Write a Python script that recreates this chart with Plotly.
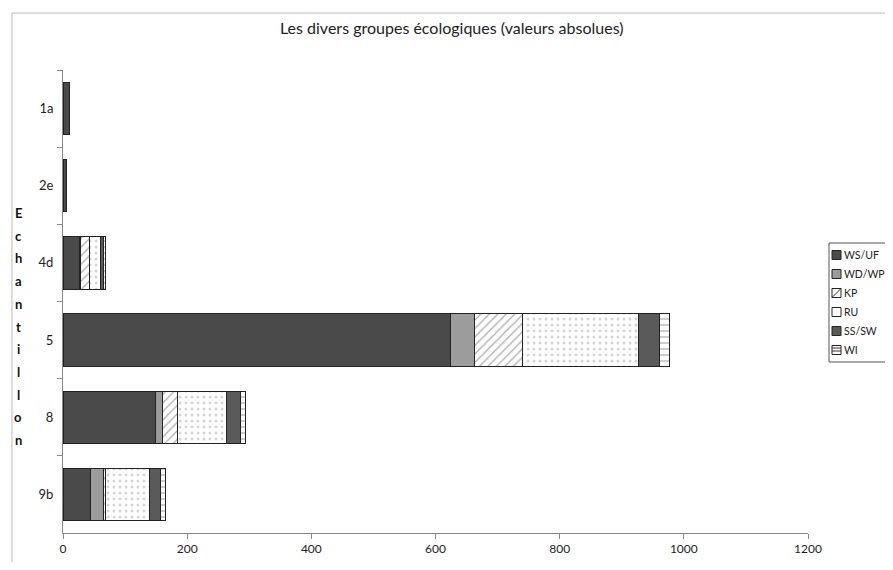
import plotly.graph_objects as go

echantillons = ["1a", "2e", "4d", "5", "8", "9b"]

ws_uf = [10, 6, 26, 624, 149, 45]
wd_wp = [0, 0, 2, 39, 12, 21]
kp = [0, 0, 14, 77, 23, 2]
ru = [0, 0, 18, 187, 80, 71]
ss_sw = [0, 0, 5, 34, 22, 18]
wi = [0, 0, 3, 16, 8, 8]

x_ticks = [0, 200, 400, 600, 800, 1000, 1200]
axis_title = "Echantillon"

groups = [
    ("WS/UF", ws_uf, "#4a4a4a", "", "#555"),
    ("WD/WP", wd_wp, "#9c9c9c", "", "#555"),
    ("KP", kp, "white", "/", "#555"),
    ("RU", ru, "white", ".", "#aaa"),
    ("SS/SW", ss_sw, "#5a5a5a", "", "#555"),
    ("WI", wi, "white", "-", "#555"),
]

# figure pixels -> paper coords (plot area is 55..800 x 62..525 in figure px)
def px(fx):
    return (fx - 55) / 745

def py(fy):
    return (525 - fy) / 463

fig = go.Figure()
for name, vals, col, pat, fg in groups:
    fig.add_trace(go.Bar(
        name=name, y=echantillons, x=vals, orientation="h",
        marker=dict(color=col, line=dict(color="#222", width=1),
                    pattern=dict(shape=pat, fgcolor=fg, size=6, solidity=0.2)),
    ))

# page has an 8px body margin: keep the figure small enough to avoid scrollbars
fig.update_layout(
    barmode="stack",
    bargap=0.32,
    width=877,
    height=554,
    plot_bgcolor="white",
    paper_bgcolor="white",
    font=dict(family="Lato, Open Sans, sans-serif", size=12, color="#222"),
    title=dict(text="Les divers groupes écologiques (valeurs absolues)",
               x=0.506, xanchor="center", y=0.964, yanchor="middle",
               font=dict(size=16, color="#222")),
    margin=dict(l=55, r=77, t=62, b=29, autoexpand=False),
    showlegend=False,
    xaxis=dict(range=[0, 1200], tickvals=x_ticks, showgrid=False,
               showline=True, linecolor="#888", linewidth=1,
               ticks="outside", ticklen=5, tickcolor="#888",
               zeroline=False, tickfont=dict(size=12)),
    yaxis=dict(autorange="reversed", showgrid=False, showline=True,
               linecolor="#888", linewidth=1, ticks="outside", ticklen=5,
               tickcolor="#888", tickson="boundaries", ticklabelstandoff=6,
               tickfont=dict(size=13)),
)

# vertical stacked axis title, one letter per line
for i, ch in enumerate(axis_title):
    fy = 205 + i * 22.7
    fig.add_annotation(
        text="<b>" + ch + "</b>", xref="paper", yref="paper",
        x=-0.0604, y=py(fy), showarrow=False,
        xanchor="center", yanchor="middle",
        font=dict(size=13, color="#111"),
    )

# legend drawn by hand so it sits at the right edge like the scan
fig.add_shape(type="rect", xref="paper", yref="paper",
              x0=px(821), x1=px(890), y0=py(235), y1=py(354),
              line=dict(color="#555", width=1), fillcolor="white")
for i, (name, vals, col, pat, fg) in enumerate(groups):
    cy = 247 + 19 * i
    x0, x1, y0, y1 = px(824), px(833), py(cy + 4.5), py(cy - 4.5)
    fig.add_shape(type="rect", xref="paper", yref="paper",
                  x0=x0, x1=x1, y0=y0, y1=y1,
                  line=dict(color="#222", width=1), fillcolor=col)
    if pat == "/":
        fig.add_shape(type="line", xref="paper", yref="paper",
                      x0=x0, x1=x1, y0=y0, y1=y1, line=dict(color="#333", width=1))
    elif pat == "-":
        for k in (-2, 1):
            fig.add_shape(type="line", xref="paper", yref="paper",
                          x0=x0, x1=x1, y0=py(cy + k), y1=py(cy + k),
                          line=dict(color="#333", width=1))
    fig.add_annotation(text=name, xref="paper", yref="paper",
                       x=px(834), y=py(cy), xanchor="left", yanchor="middle",
                       showarrow=False, font=dict(size=10.5, color="#222"))

# page border (top and left) as in the scan
fig.add_shape(type="line", xref="paper", yref="paper", x0=-0.0685, x1=1.2,
              y0=1.123, y1=1.123, line=dict(color="#bbb", width=1))
fig.add_shape(type="line", xref="paper", yref="paper", x0=-0.0685, x1=-0.0685,
              y0=1.123, y1=-0.1, line=dict(color="#bbb", width=1))

fig.write_html("out.html")
